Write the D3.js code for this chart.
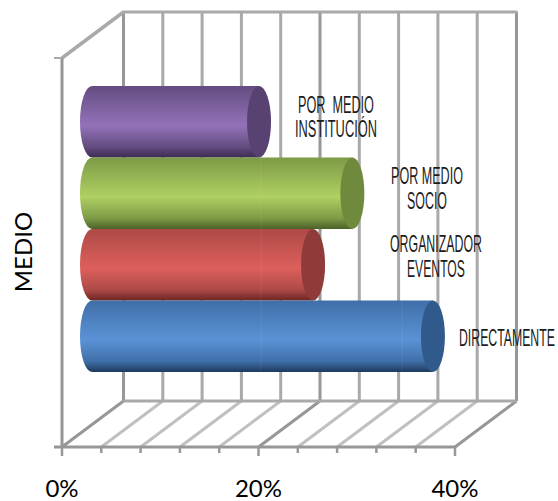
<!DOCTYPE html>
<html>
<head>
<meta charset="utf-8">
<script src="https://cdn.jsdelivr.net/npm/d3@7"></script>
<style>
html,body{margin:0;padding:0;background:#fff;}
svg{display:block;}
</style>
</head>
<body>
<svg id="chart" width="558" height="501"></svg>
<script>
// Chart data
const categories = ["POR MEDIO INSTITUCIÓN", "POR MEDIO SOCIO", "ORGANIZADOR EVENTOS", "DIRECTAMENTE"];
const values = [17, 26.5, 22.5, 34.7];
const tickValues = [0, 4, 8, 12, 16, 20, 24, 28, 32, 36, 40];
const tickLabels = [0, 20, 40];
const labelLines = [["POR  MEDIO", "INSTITUCIÓN"], ["POR MEDIO", "SOCIO"], ["ORGANIZADOR", "EVENTOS"], ["DIRECTAMENTE"]];
const axisTitle = "MEDIO";
const barColors = [
  {dark:"#634c80", light:"#9472b9", deep:"#3d2c52", cap:"#574271"},
  {dark:"#7d9a45", light:"#afd062", deep:"#4b6128", cap:"#6f8a3d"},
  {dark:"#ad4a47", light:"#dd5f5c", deep:"#6d2523", cap:"#8f3b39"},
  {dark:"#3f6fa8", light:"#5b92d6", deep:"#1f3a5c", cap:"#2f5a8b"}
];

const svg = d3.select("#chart");

// Oblique box: front plane and the offset of the back wall
const frontLeft = 62, frontRight = 455, frontBottom = 447, frontTop = 58;
const depthX = 61.5, depthY = -46;
const x = d3.scaleLinear().domain([0, 40]).range([frontLeft, frontRight]);
const y = d3.scaleBand().domain(categories).range([86, 372]).padding(0);

const gridColor = "#a9a9a9", axisColor = "#979797";
const grid = svg.append("g").attr("fill", "none");
const seg = (x1, y1, x2, y2, c, w) => grid.append("line")
  .attr("x1", x1).attr("y1", y1).attr("x2", x2).attr("y2", y2)
  .attr("stroke", c).attr("stroke-width", w);

// Back wall verticals and floor diagonals, one per tick
tickValues.forEach(t => {
  const major = t % 20 === 0;
  const bx = x(t) + depthX;
  seg(bx, frontTop + depthY, bx, frontBottom + depthY, major ? axisColor : gridColor, 3);
  seg(x(t), frontBottom, bx, frontBottom + depthY, major ? axisColor : "#c0c0c0", 3);
  seg(x(t), frontBottom, x(t), frontBottom + (major ? 9 : 6), axisColor, 2.5);
});
// Box edges
seg(x(0) + depthX - 1, frontTop + depthY, x(40) + depthX + 1, frontTop + depthY, gridColor, 3);
seg(x(0) + depthX, frontBottom + depthY, x(40) + depthX, frontBottom + depthY, gridColor, 3);
seg(x(0), frontTop, x(0) + depthX, frontTop + depthY, gridColor, 3.5);
seg(x(0), frontTop, x(0), frontBottom, axisColor, 3);
seg(x(0) - 8, frontTop, x(0), frontTop, gridColor, 2);
seg(x(0) - 8, frontBottom, x(40), frontBottom, axisColor, 3);

// Cylinders: bars sit halfway through the depth of the box
const barShift = 30, capRx = 12;
const defs = svg.append("defs");
const bars = svg.append("g");
categories.forEach((c, i) => {
  const col = barColors[i];
  const id = "shade" + i;
  const g = defs.append("linearGradient").attr("id", id)
    .attr("x1", 0).attr("y1", 0).attr("x2", 0).attr("y2", 1);
  [[0, col.dark], [0.55, col.light], [0.85, col.dark], [1, col.deep]].forEach(s =>
    g.append("stop").attr("offset", s[0]).attr("stop-color", s[1]));

  const x0 = x(0) + barShift, x1 = x(values[i]) + barShift;
  const top = y(c), bot = y(c) + y.bandwidth(), ry = y.bandwidth() / 2;
  const p = d3.path();
  p.moveTo(x0, top);
  p.lineTo(x1, top);
  p.lineTo(x1, bot);
  p.lineTo(x0, bot);
  const body = `${p.toString()}A${capRx},${ry} 0 0 1 ${x0},${top}Z`;
  bars.append("path").attr("d", body).attr("fill", `url(#${id})`);

  // Faint facet lines along the cylinder surface
  [20.25, 34.6].filter(s => x(s) < x1 - capRx).forEach(s => {
    bars.append("line").attr("x1", x(s)).attr("x2", x(s)).attr("y1", top).attr("y2", bot)
      .attr("stroke", "#fff").attr("stroke-opacity", 0.07);
  });

  bars.append("ellipse")
    .attr("cx", x1).attr("cy", top + ry).attr("rx", capRx).attr("ry", ry)
    .attr("fill", col.cap);
});

// Value labels, placed to the right of each cylinder and squeezed to a condensed width
const labelSpec = [
  {cx: 336, y: [113, 137], w: [76, 82]},
  {cx: 427, y: [184, 209], w: [72, 40]},
  {cx: 436, y: [252, 277], w: [92, 58]},
  {cx: 507, y: [346], w: [96]}
];
const labels = svg.append("g").attr("fill", "#1c1c1c")
  .attr("font-family", "'Liberation Sans',sans-serif").attr("font-size", 24);
labelLines.forEach((lines, i) => {
  lines.forEach((line, j) => {
    const t = labels.append("text").style("white-space", "pre").text(line);
    const sx = labelSpec[i].w[j] / t.node().getComputedTextLength();
    t.attr("transform",
      `translate(${labelSpec[i].cx - labelSpec[i].w[j] / 2},${labelSpec[i].y[j]}) scale(${sx},1)`);
  });
});

// Axis tick labels and title
svg.append("g").attr("font-family", "Lato,'Open Sans',sans-serif")
  .attr("font-size", 24).attr("fill", "#000").attr("text-anchor", "middle")
  .selectAll("text").data(tickLabels).join("text")
  .attr("x", d => x(d)).attr("y", 497).text(d => d + "%");

svg.append("text").attr("font-family", "Lato,'Open Sans',sans-serif")
  .attr("font-size", 24).attr("fill", "#000").attr("text-anchor", "middle")
  .attr("transform", "translate(32,252) rotate(-90)").text(axisTitle);
</script>
</body>
</html>
